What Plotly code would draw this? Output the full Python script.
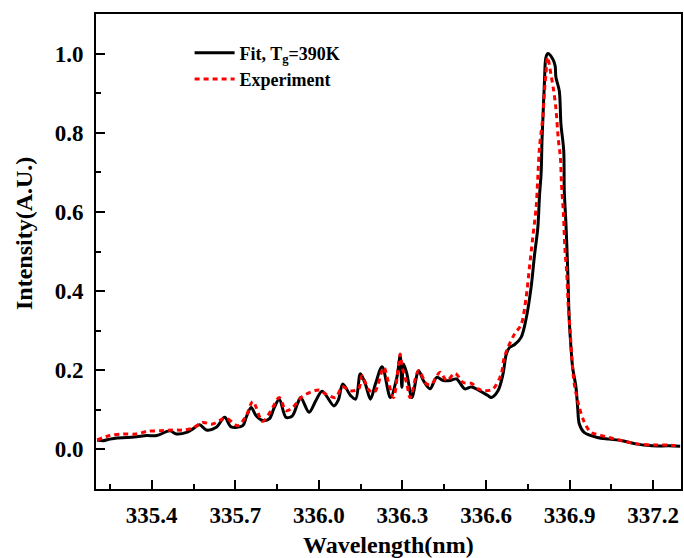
import plotly.graph_objects as go

# Fitted spectrum (T_g = 390 K)
fit_wl = [335.204, 335.226, 335.250, 335.275, 335.311, 335.346, 335.382, 335.418,
          335.465, 335.489, 335.525, 335.548, 335.572, 335.596, 335.632, 335.662,
          335.685, 335.727, 335.739, 335.757, 335.775, 335.798, 335.822, 335.840,
          335.858, 335.882, 335.905, 335.923, 335.935, 335.965, 335.989, 336.012,
          336.054, 336.070, 336.086, 336.114, 336.132, 336.149, 336.167, 336.185,
          336.203, 336.227, 336.257, 336.280, 336.292, 336.298, 336.304, 336.316,
          336.334, 336.358, 336.375, 336.399, 336.423, 336.447, 336.471, 336.494,
          336.524, 336.548, 336.578, 336.607, 336.619, 336.643, 336.661, 336.673,
          336.685, 336.703, 336.726, 336.744, 336.762, 336.774, 336.786, 336.792,
          336.798, 336.801, 336.804, 336.810, 336.815, 336.822, 336.839, 336.848,
          336.851, 336.863, 336.869, 336.879, 336.881, 336.887, 336.893, 336.899,
          336.905, 336.911, 336.923, 336.929, 336.935, 336.952, 337.000, 337.042,
          337.089, 337.137, 337.196, 337.256, 337.297]
fit_int = [0.024, 0.022, 0.026, 0.029, 0.030, 0.032, 0.035, 0.035,
           0.047, 0.039, 0.043, 0.052, 0.062, 0.049, 0.056, 0.081,
           0.057, 0.060, 0.081, 0.106, 0.085, 0.073, 0.077, 0.106,
           0.127, 0.081, 0.085, 0.115, 0.131, 0.094, 0.123, 0.147,
           0.110, 0.125, 0.165, 0.136, 0.127, 0.191, 0.165, 0.127,
           0.165, 0.209, 0.131, 0.182, 0.237, 0.157, 0.216, 0.191,
           0.131, 0.199, 0.174, 0.153, 0.182, 0.174, 0.174, 0.178,
           0.153, 0.158, 0.148, 0.136, 0.131, 0.148, 0.190, 0.241,
           0.258, 0.265, 0.283, 0.330, 0.410, 0.490, 0.560, 0.640,
           0.700, 0.780, 0.831, 0.932, 0.990, 1.000, 0.987, 0.970,
           0.940, 0.906, 0.822, 0.755, 0.654, 0.570, 0.460, 0.325,
           0.258, 0.207, 0.157, 0.106, 0.064, 0.043, 0.030, 0.026,
           0.022, 0.014, 0.009, 0.009, 0.008]

# Measured spectrum
exp_wl = [335.204, 335.249, 335.296, 335.344, 335.386, 335.433, 335.475, 335.513,
          335.548, 335.582, 335.618, 335.655, 335.673, 335.709, 335.739, 335.763,
          335.798, 335.828, 335.858, 335.882, 335.905, 335.941, 336.001, 336.025,
          336.060, 336.084, 336.114, 336.143, 336.155, 336.180, 336.200, 336.233,
          336.250, 336.268, 336.292, 336.298, 336.316, 336.328, 336.358, 336.387,
          336.405, 336.435, 336.459, 336.489, 336.518, 336.548, 336.572, 336.596,
          336.625, 336.655, 336.664, 336.679, 336.703, 336.726, 336.744, 336.756,
          336.768, 336.780, 336.786, 336.792, 336.804, 336.810, 336.815, 336.821,
          336.833, 336.843, 336.851, 336.860, 336.867, 336.871, 336.878, 336.883,
          336.890, 336.895, 336.902, 336.908, 336.917, 336.929, 336.935, 336.952,
          336.976, 336.988, 337.042, 337.089, 337.143, 337.196, 337.250, 337.297]
exp_int = [0.024, 0.035, 0.039, 0.039, 0.046, 0.047, 0.049, 0.049,
           0.054, 0.068, 0.064, 0.077, 0.077, 0.060, 0.085, 0.121,
           0.071, 0.098, 0.131, 0.098, 0.105, 0.134, 0.150, 0.140,
           0.131, 0.158, 0.148, 0.153, 0.186, 0.150, 0.145, 0.207,
           0.169, 0.131, 0.241, 0.212, 0.165, 0.131, 0.199, 0.165,
           0.165, 0.195, 0.174, 0.192, 0.169, 0.167, 0.153, 0.148,
           0.153, 0.191, 0.228, 0.258, 0.292, 0.315, 0.384, 0.460,
           0.536, 0.612, 0.687, 0.763, 0.839, 0.906, 0.948, 0.991,
           0.948, 0.906, 0.861, 0.780, 0.738, 0.671, 0.595, 0.510,
           0.443, 0.367, 0.300, 0.232, 0.165, 0.123, 0.106, 0.070,
           0.043, 0.040, 0.030, 0.022, 0.014, 0.011, 0.011, 0.009]

x_ticks = [335.4, 335.7, 336.0, 336.3, 336.6, 336.9, 337.2]
y_ticks = [0.0, 0.2, 0.4, 0.6, 0.8, 1.0]

FONT = "Liberation Serif"

fig = go.Figure()
fig.add_trace(go.Scatter(
    x=fit_wl, y=fit_int, mode="lines", name="Fit, T<sub>g</sub>=390K",
    line=dict(color="black", width=3, shape="spline", smoothing=0.9),
))
fig.add_trace(go.Scatter(
    x=exp_wl, y=exp_int, mode="lines", name="Experiment",
    line=dict(color="#ff0000", width=3, dash="5px,4px", shape="spline", smoothing=0.9),
))

axis_common = dict(
    showline=True, linecolor="black", linewidth=1.8, mirror=True,
    ticks="inside", ticklen=9, tickwidth=1.5, tickcolor="black",
    showgrid=False, zeroline=False,
    tickfont=dict(family=FONT, size=23, color="black", weight="bold"),
)

fig.update_xaxes(
    range=[335.2, 337.3], tickvals=x_ticks, ticktext=[f"{v:.1f}" for v in x_ticks],
    ticklabelstandoff=4,
    minor=dict(dtick=0.15, tick0=335.25, ticks="inside", ticklen=5, tickwidth=1.5,
               tickcolor="black"),
    **axis_common,
)
fig.update_yaxes(
    range=[-0.1, 1.1], tickvals=y_ticks, ticktext=[f"{v:.1f}" for v in y_ticks],
    ticklabelstandoff=6,
    minor=dict(dtick=0.1, tick0=0.1, ticks="inside", ticklen=5, tickwidth=1.5,
               tickcolor="black"),
    **axis_common,
)

fig.update_layout(
    width=684, height=558,
    margin=dict(l=96, r=1, t=14, b=69),
    paper_bgcolor="white", plot_bgcolor="white",
    showlegend=True,
    legend=dict(
        x=0.16, y=0.957, xanchor="left", yanchor="top",
        bgcolor="rgba(0,0,0,0)", borderwidth=0,
        font=dict(family=FONT, size=18, color="black", weight="bold"),
        itemwidth=40, tracegroupgap=0,
    ),
    annotations=[
        dict(text="Wavelength(nm)", xref="paper", yref="paper", x=0.5, y=-0.118,
             xanchor="center", yanchor="middle", showarrow=False,
             font=dict(family=FONT, size=24, color="black", weight="bold")),
        dict(text="Intensity(A.U.)", xref="paper", yref="paper", x=-0.123, y=0.537,
             xanchor="center", yanchor="middle", showarrow=False, textangle=-90,
             font=dict(family=FONT, size=24, color="black", weight="bold")),
    ],
)

fig.write_html("out.html")
